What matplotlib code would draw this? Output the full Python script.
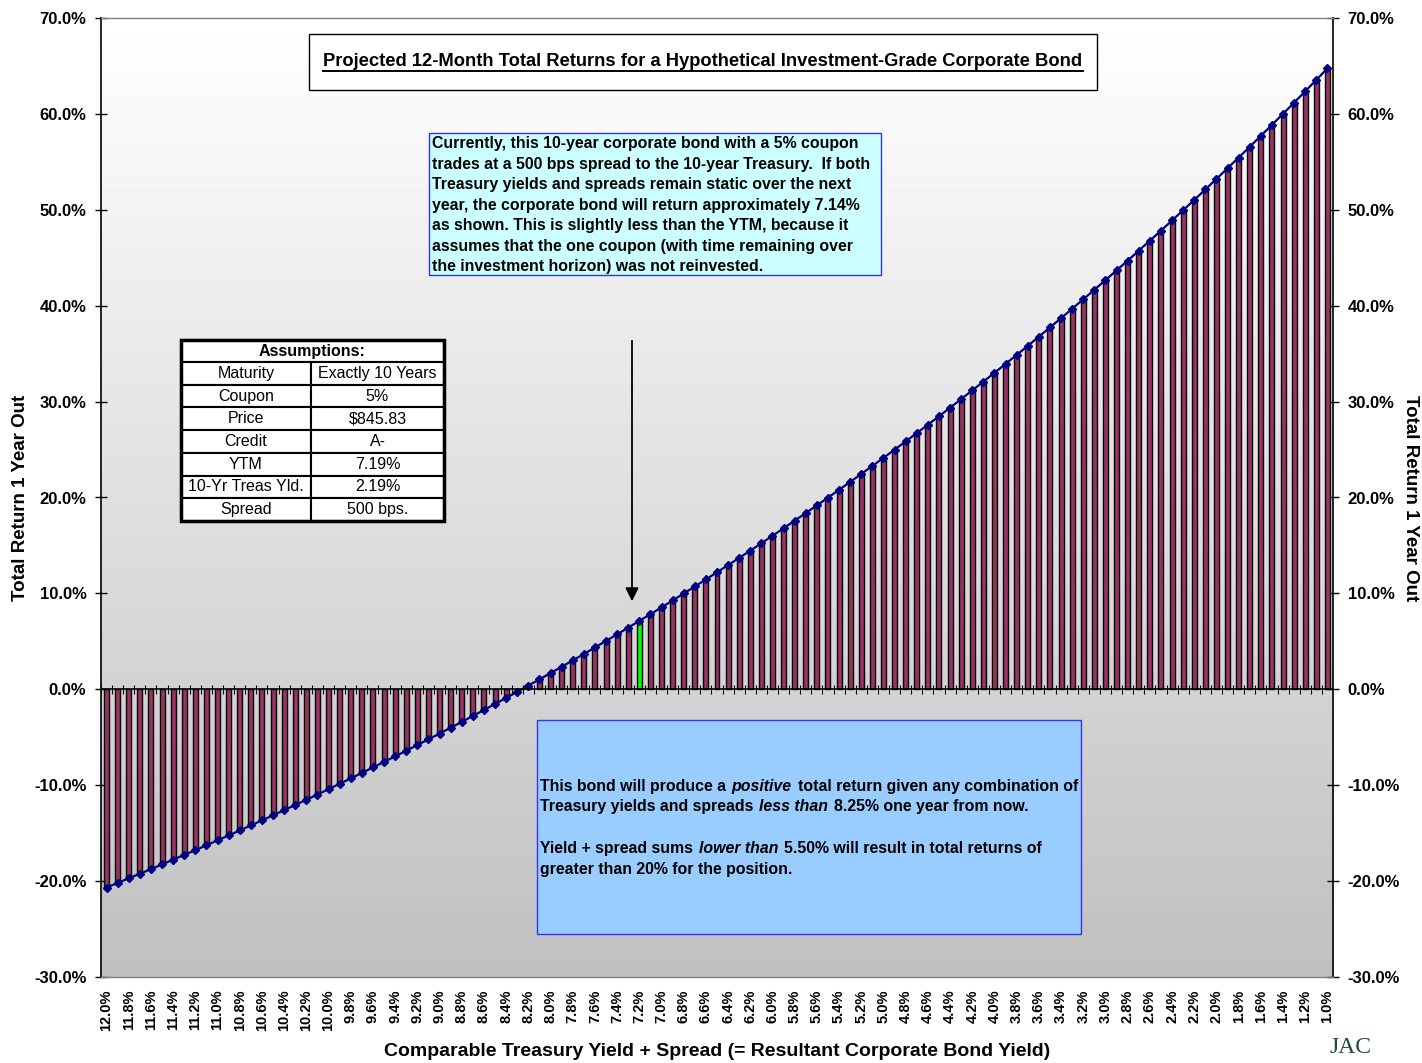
import matplotlib.pyplot as plt
from matplotlib.patches import Rectangle
from matplotlib.lines import Line2D
import numpy as np

plt.rcParams['font.family'] = ['Liberation Sans', 'DejaVu Sans']
plt.rcParams['font.weight'] = 'bold'

# comparable treasury yield + spread (%), left to right
yields = [12.0, 11.9, 11.8, 11.7, 11.6, 11.5, 11.4, 11.3, 11.2, 11.1,
          11.0, 10.9, 10.8, 10.7, 10.6, 10.5, 10.4, 10.3, 10.2, 10.1,
          10.0, 9.9, 9.8, 9.7, 9.6, 9.5, 9.4, 9.3, 9.2, 9.1,
          9.0, 8.9, 8.8, 8.7, 8.6, 8.5, 8.4, 8.3, 8.2, 8.1,
          8.0, 7.9, 7.8, 7.7, 7.6, 7.5, 7.4, 7.3, 7.2, 7.1,
          7.0, 6.9, 6.8, 6.7, 6.6, 6.5, 6.4, 6.3, 6.2, 6.1,
          6.0, 5.9, 5.8, 5.7, 5.6, 5.5, 5.4, 5.3, 5.2, 5.1,
          5.0, 4.9, 4.8, 4.7, 4.6, 4.5, 4.4, 4.3, 4.2, 4.1,
          4.0, 3.9, 3.8, 3.7, 3.6, 3.5, 3.4, 3.3, 3.2, 3.1,
          3.0, 2.9, 2.8, 2.7, 2.6, 2.5, 2.4, 2.3, 2.2, 2.1,
          2.0, 1.9, 1.8, 1.7, 1.6, 1.5, 1.4, 1.3, 1.2, 1.1, 1.0]

# projected 1-year total return (%)
returns = [-20.67, -20.19, -19.71, -19.23, -18.75, -18.26, -17.76, -17.27, -16.77, -16.26,
           -15.75, -15.24, -14.72, -14.19, -13.67, -13.14, -12.60, -12.06, -11.52, -10.97,
           -10.41, -9.85, -9.29, -8.72, -8.15, -7.57, -6.99, -6.41, -5.81, -5.22,
           -4.62, -4.01, -3.40, -2.78, -2.16, -1.53, -0.90, -0.26, 0.39, 1.03,
           1.69, 2.35, 3.01, 3.68, 4.36, 5.04, 5.73, 6.43, 7.13, 7.83,
           8.54, 9.26, 9.99, 10.72, 11.45, 12.20, 12.95, 13.70, 14.46, 15.23,
           16.01, 16.79, 17.58, 18.38, 19.18, 19.99, 20.80, 21.63, 22.46, 23.29,
           24.14, 24.99, 25.85, 26.72, 27.59, 28.47, 29.36, 30.26, 31.17, 32.08,
           33.00, 33.93, 34.87, 35.81, 36.77, 37.73, 38.70, 39.68, 40.67, 41.66,
           42.67, 43.68, 44.70, 45.74, 46.78, 47.83, 48.89, 49.96, 51.03, 52.12,
           53.22, 54.33, 55.45, 56.57, 57.71, 58.86, 60.01, 61.18, 62.36, 63.55, 64.75]

current_yield = 7.2

table_rows = [("Maturity", "Exactly 10 Years"), ("Coupon", "5%"), ("Price", "$845.83"),
              ("Credit", "A-"), ("YTM", "7.19%"), ("10-Yr Treas Yld.", "2.19%"),
              ("Spread", "500 bps.")]

W, H = 1422, 1063
fig = plt.figure(figsize=(W / 100, H / 100), dpi=100)


def fx(x):
    return x / W


def fy(y):
    return 1 - y / H


ax = fig.add_axes([fx(101), fy(977), fx(1333) - fx(101), fy(18) - fy(977)])

x = np.arange(len(yields))
ax.set_xlim(-0.5, len(yields) - 0.5)
ax.set_ylim(-30, 70)

# gradient plot area
grad = np.linspace(1.0, 0.753, 256).reshape(-1, 1)
ax.imshow(grad, extent=[-0.5, len(yields) - 0.5, -30, 70], aspect='auto',
          cmap='gray', vmin=0, vmax=1, zorder=0, origin='upper')

colors = ['#00ff00' if y == current_yield else '#993366' for y in yields]
ax.bar(x, returns, width=0.45, color=colors, edgecolor='black', linewidth=1.0, zorder=2)
ax.plot(x, returns, color='#000080', lw=1.6, marker='D', markersize=4.5, zorder=3)

ax.axhline(0, color='black', lw=1.2, zorder=4)
ax.vlines(x - 0.5, -0.45, 0.45, color='black', lw=0.8, zorder=4)

ax.set_xticks(x[::2])
ax.set_xticklabels([f"{y:.1f}%" for y in yields[::2]], rotation=90, fontsize=10.5)
ax.tick_params(axis='x', length=0, pad=9)

ax.set_yticks(range(-30, 71, 10))
ax.set_yticklabels([f"{v:.1f}%" for v in range(-30, 71, 10)])
ax.tick_params(axis='y', direction='inout', length=9, width=1, left=True, right=True,
               labelleft=True, labelright=True, labelsize=12, pad=6)

for s in ['left', 'right']:
    ax.spines[s].set_color('black')
    ax.spines[s].set_linewidth(1.2)
for s in ['top', 'bottom']:
    ax.spines[s].set_color('#808080')
    ax.spines[s].set_linewidth(1.0)

fig.text(fx(21), fy(498), "Total Return 1 Year Out", rotation=90, ha='center', va='center', fontsize=13.5)
fig.text(fx(1410), fy(498), "Total Return 1 Year Out", rotation=270, ha='center', va='center', fontsize=13.5)
fig.text(fx(717), fy(1052), "Comparable Treasury Yield + Spread (= Resultant Corporate Bond Yield)",
         ha='center', va='center', fontsize=14)

r = fig.canvas.get_renderer()

# title box
fig.patches.append(Rectangle((fx(309), fy(90)), fx(1097) - fx(309), fy(34) - fy(90),
                             transform=fig.transFigure, facecolor='white', edgecolor='black', lw=1))
title = fig.text(fx(703), fy(61), "Projected 12-Month Total Returns for a Hypothetical Investment-Grade Corporate Bond",
                 ha='center', va='center', fontsize=13.2)
bb = title.get_window_extent(r)
fig.lines.append(Line2D([bb.x0, bb.x1], [bb.y0 - 1, bb.y0 - 1], color='black', lw=1.4,
                        transform=None))

# upper note
fig.patches.append(Rectangle((fx(429), fy(275)), fx(881) - fx(429), fy(133) - fy(275),
                             transform=fig.transFigure, facecolor='#ccffff', edgecolor='#3333ff', lw=1))
note = ("Currently, this 10-year corporate bond with a 5% coupon\n"
        "trades at a 500 bps spread to the 10-year Treasury.  If both\n"
        "Treasury yields and spreads remain static over the next\n"
        "year, the corporate bond will return approximately 7.14%\n"
        "as shown. This is slightly less than the YTM, because it\n"
        "assumes that the one coupon (with time remaining over\n"
        "the investment horizon) was not reinvested.")
fig.text(fx(432), fy(136), note, ha='left', va='top', fontsize=11.4, linespacing=1.46)

# lower note with italic words
fig.patches.append(Rectangle((fx(537), fy(934)), fx(1081) - fx(537), fy(720) - fy(934),
                             transform=fig.transFigure, facecolor='#99ccff', edgecolor='#3333ff', lw=1))


def rich_line(x0, y0, parts, size=11.4):
    a = fig.text(0, 0, "a a", fontsize=size)
    b = fig.text(0, 0, "aa", fontsize=size)
    sp = a.get_window_extent(r).width - b.get_window_extent(r).width
    a.remove()
    b.remove()
    cx = x0
    for s, st in parts:
        t = fig.text(fx(cx), fy(y0 + 5), s, fontsize=size, fontstyle=st, ha='left', va='baseline')
        cx += t.get_window_extent(r).width + sp * 1.3


rich_line(540, 786, [("This bond will produce a", 'normal'), ("positive", 'italic'),
                     ("total return given any combination of", 'normal')])
rich_line(540, 806, [("Treasury yields and spreads", 'normal'), ("less than", 'italic'),
                     ("8.25% one year from now.", 'normal')])
rich_line(540, 848, [("Yield + spread sums", 'normal'), ("lower than", 'italic'),
                     ("5.50% will result in total returns of", 'normal')])
rich_line(540, 869, [("greater than 20% for the position.", 'normal')])

# assumptions table
tx0, tx1, tmid = 181, 444, 311
ty0, hdr = 340, 22
rh = (521 - 362) / len(table_rows)
fig.patches.append(Rectangle((fx(tx0), fy(ty0 + hdr)), fx(tx1) - fx(tx0), fy(ty0) - fy(ty0 + hdr),
                             transform=fig.transFigure, facecolor='white', edgecolor='black', lw=1.5))
fig.text(fx((tx0 + tx1) / 2), fy(ty0 + hdr / 2), "Assumptions:", ha='center', va='center', fontsize=11.5)
for i, (k, v) in enumerate(table_rows):
    top = ty0 + hdr + i * rh
    for (c0, c1, s) in [(tx0, tmid, k), (tmid, tx1, v)]:
        fig.patches.append(Rectangle((fx(c0), fy(top + rh)), fx(c1) - fx(c0), fy(top) - fy(top + rh),
                                     transform=fig.transFigure, facecolor='white', edgecolor='black', lw=1.5))
        fig.text(fx((c0 + c1) / 2), fy(top + rh / 2), s, ha='center', va='center',
                 fontsize=11.5, fontweight='normal', fontstretch='condensed')
fig.patches.append(Rectangle((fx(tx0), fy(521)), fx(tx1) - fx(tx0), fy(ty0) - fy(521),
                             transform=fig.transFigure, facecolor='none', edgecolor='black', lw=2.5))

# arrow to current level
fig.add_artist(plt.Annotation('', xy=(632, H - 604), xytext=(632, H - 338), xycoords='figure pixels',
                              textcoords='figure pixels',
                              arrowprops=dict(arrowstyle='-|>', color='black', lw=1.3, mutation_scale=20)))

# logo (cut at the corner in the original)
fig.text(fx(1330), fy(1053), "JAC", ha='left', va='baseline', fontsize=17, fontweight='normal',
         family='Liberation Serif', color='#1d4a42')

fig.savefig('out.png', dpi=100)
